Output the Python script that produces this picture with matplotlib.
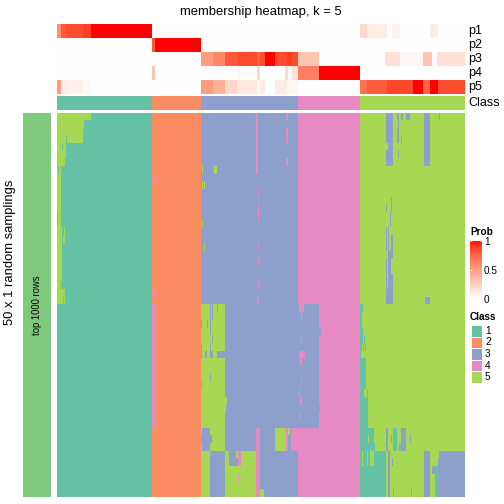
import numpy as np
import matplotlib
matplotlib.use("Agg")
import matplotlib.pyplot as plt
from matplotlib.colors import ListedColormap
from matplotlib.patches import Rectangle

plt.rcParams['font.family'] = ['Liberation Sans', 'DejaVu Sans']

# ---- data -------------------------------------------------------------
classes = [1, 2, 3, 4, 5]
class_colors = ["#66C2A5", "#FC8D62", "#8DA0CB", "#E78AC3", "#A6D854"]
class_sizes = [95, 49, 97, 62, 105]          # samples in each consensus class
n_samplings = 50
prob_rows = ["p1", "p2", "p3", "p4", "p5"]

# membership probabilities, run-length coded: (n samples, prob)
p1_runs = [(4, .55), (5, .8), (17, .85), (8, .9), (61, 1.0),
           (49, 0), (97, 0), (62, 0),
           (7, .2), (20, .1), (5, 0), (8, .08), (30, 0), (8, .1), (27, 0)]
p2_runs = [(95, 0), (3, .8), (46, 1.0), (97, 0), (62, 0), (105, 0)]
p3_runs = [(95, 0), (49, 0),
           (12, .5), (12, .6), (12, .8), (20, .85), (3, .75), (5, .85),
           (10, 1.0), (12, .85), (5, .9), (6, .85),
           (21, .3), (41, 0),
           (25, 0), (15, .15), (23, .05), (9, .3), (5, 0), (28, .15)]
p4_runs = [(95, 0), (3, .3), (46, 0),
           (36, 0), (3, .05), (17, 0), (3, .2), (25, 0), (3, .2), (4, 0), (6, .15),
           (21, .65), (41, 1.0), (105, 0)]
p5_runs = [(4, .5), (5, .1), (17, .08), (8, .03), (61, 0),
           (49, 0),
           (12, .5), (12, .4), (12, .2), (20, .12), (3, .03), (5, .1), (10, 0),
           (12, .1), (11, .05),
           (62, 0),
           (7, .7), (20, .8), (26, .87), (10, 1.0), (7, .75), (8, 1.0), (27, .85)]

# class calls of single samplings that differ from the consensus:
# (first sampling, last sampling + 1, first sample, last sample + 1, class)
reassign = [
    # class 1 block
    (0, 1, 0, 34, 5), (1, 2, 0, 27, 5), (2, 4, 0, 26, 5), (3, 4, 9, 10, 1),
    (4, 6, 0, 9, 5), (4, 5, 5, 6, 1), (6, 7, 0, 8, 5), (7, 15, 0, 4, 5),
    (7, 8, 1, 2, 1), (13, 15, 0, 1, 1), (15, 17, 0, 5, 5), (15, 16, 7, 8, 5),
    (16, 17, 6, 8, 5), (17, 22, 0, 5, 5), (22, 23, 0, 4, 5), (23, 25, 0, 8, 5),
    (24, 25, 6, 7, 1),
    # class 2 block
    (8, 9, 97, 98, 4), (23, 24, 97, 98, 4), (25, 41, 95, 98, 4),
    # class 3 block
    (7, 8, 145, 146, 5), (7, 8, 157, 160, 5), (9, 10, 145, 146, 5),
    (9, 10, 147, 148, 5), (14, 15, 145, 146, 5), (17, 18, 147, 148, 5),
    (0, 8, 199, 201, 4), (0, 1, 229, 231, 4), (2, 4, 229, 231, 4),
    (6, 7, 229, 231, 4), (10, 11, 201, 202, 4), (12, 14, 201, 202, 4),
    (17, 18, 201, 202, 4), (19, 20, 201, 202, 4), (22, 23, 201, 202, 4),
    (24, 25, 200, 202, 4),
    (25, 41, 144, 168, 5), (25, 27, 153, 154, 3), (25, 27, 155, 156, 3),
    (25, 26, 160, 161, 3), (27, 28, 144, 145, 3), (27, 28, 150, 151, 3),
    (27, 29, 153, 154, 3), (29, 30, 155, 156, 3), (30, 31, 153, 154, 3),
    (30, 32, 144, 145, 3), (31, 32, 148, 150, 3), (31, 32, 153, 156, 3),
    (31, 32, 160, 168, 3), (34, 35, 153, 154, 3), (35, 36, 144, 145, 3),
    (37, 38, 168, 170, 5), (38, 39, 168, 169, 5),
    (41, 44, 153, 168, 5), (41, 42, 144, 145, 5), (43, 44, 144, 145, 5),
    (42, 43, 153, 155, 3),
    (41, 50, 199, 203, 4), (41, 44, 218, 229, 5), (41, 44, 229, 231, 4),
    (41, 42, 231, 233, 5), (41, 44, 234, 241, 4),
    (44, 50, 144, 153, 5), (44, 50, 168, 199, 5), (44, 46, 172, 181, 3),
    (44, 45, 179, 181, 5), (44, 46, 181, 184, 4), (47, 48, 181, 182, 4),
    (49, 50, 203, 207, 5),
    # class 4 block
    (25, 41, 241, 262, 3), (25, 26, 242, 247, 4), (26, 27, 244, 245, 4),
    (28, 29, 262, 264, 3), (29, 30, 244, 245, 4), (31, 32, 242, 248, 4),
    (32, 33, 243, 245, 4), (34, 35, 244, 245, 4), (36, 37, 242, 243, 4),
    (37, 38, 243, 245, 4), (38, 39, 262, 263, 3), (39, 40, 242, 243, 4),
    # class 5 block
    (0, 7, 329, 336, 3), (4, 5, 329, 331, 5), (0, 1, 340, 342, 3),
    (1, 2, 341, 342, 3), (2, 4, 340, 342, 3), (5, 6, 341, 342, 3),
    (0, 1, 344, 346, 3), (3, 4, 344, 345, 3), (0, 1, 349, 353, 3),
    (0, 7, 367, 373, 3), (0, 1, 382, 383, 3),
    (11, 13, 334, 335, 3), (12, 13, 329, 330, 3), (13, 15, 333, 334, 3),
    (15, 18, 329, 330, 3), (15, 18, 331, 332, 3), (16, 19, 334, 336, 3),
    (18, 25, 331, 334, 3), (19, 24, 329, 330, 3), (21, 23, 334, 336, 3),
    (24, 25, 368, 373, 3), (23, 25, 329, 336, 3),
    (25, 26, 303, 306, 1), (26, 28, 303, 305, 1), (28, 29, 303, 306, 1),
    (29, 30, 303, 306, 1), (29, 30, 307, 308, 1), (30, 31, 303, 305, 1),
    (30, 31, 306, 307, 1), (30, 31, 308, 309, 1), (31, 32, 303, 304, 1),
    (32, 36, 303, 309, 1), (36, 37, 303, 307, 1), (36, 37, 310, 311, 1),
    (37, 41, 303, 311, 1),
    (41, 43, 303, 317, 1), (42, 43, 311, 312, 5), (43, 44, 303, 318, 1),
    (41, 44, 329, 331, 3), (41, 44, 336, 340, 1), (41, 44, 344, 349, 3),
    (43, 44, 342, 344, 1), (42, 43, 353, 354, 3), (42, 43, 334, 335, 3),
    (44, 50, 303, 329, 1), (44, 46, 305, 306, 5), (44, 46, 310, 311, 5),
    (44, 46, 313, 317, 5), (44, 50, 331, 333, 3), (45, 46, 335, 336, 3),
    (49, 50, 336, 337, 1), (49, 50, 354, 355, 3),
    (44, 50, 367, 373, 3), (46, 47, 375, 378, 3), (46, 50, 378, 381, 1),
    (45, 50, 381, 408, 3), (44, 45, 382, 408, 3),
]


def expand(runs):
    return np.concatenate([np.full(n, v, dtype=float) for n, v in runs])


def lab_ramp(n=256):
    # white -> red interpolated in CIE Lab, like colorRamp2 does
    t = np.linspace(0, 1, n)[:, None]
    white = np.array([100.0, 0.0, 0.0])
    red = np.array([53.24, 80.09, 67.20])
    lab = white * (1 - t) + red * t
    fy = (lab[:, 0] + 16) / 116
    fx = fy + lab[:, 1] / 500
    fz = fy - lab[:, 2] / 200
    d = 6 / 29

    def finv(f):
        return np.where(f > d, f ** 3, 3 * d * d * (f - 4 / 29))

    xyz = np.stack([0.95047 * finv(fx), finv(fy), 1.08883 * finv(fz)], axis=1)
    m = np.array([[3.2406, -1.5372, -0.4986],
                  [-0.9689, 1.8758, 0.0415],
                  [0.0557, -0.2040, 1.0570]])
    lin = np.clip(xyz @ m.T, 0, 1)
    rgb = np.where(lin <= 0.0031308, 12.92 * lin, 1.055 * lin ** (1 / 2.4) - 0.055)
    return ListedColormap(np.clip(rgb, 0, 1))


sample_class = np.repeat(classes, class_sizes)
probs = np.vstack([expand(r) for r in (p1_runs, p2_runs, p3_runs, p4_runs, p5_runs)])

calls = np.tile(sample_class, (n_samplings, 1))
for r0, r1, c0, c1, k in reassign:
    calls[r0:r1, c0:c1] = k

# ---- layout (pixels on a 504 x 504 canvas) ---------------------------
W = H = 504
fig = plt.figure(figsize=(7, 7), dpi=72)


def panel(x0, y0, x1, y1):
    ax = fig.add_axes([x0 / W, 1 - y1 / H, (x1 - x0) / W, (y1 - y0) / H])
    ax.set_axis_off()
    return ax


class_cmap = ListedColormap(class_colors)
prob_cmap = lab_ramp()

ax_p = panel(57, 24, 465, 94)
ax_p.imshow(probs, cmap=prob_cmap, vmin=0, vmax=1, aspect='auto',
            interpolation='nearest')

ax_c = panel(57, 96.3, 465, 109.7)
ax_c.imshow(sample_class[None, :], cmap=class_cmap, vmin=0.5, vmax=5.5,
            aspect='auto', interpolation='nearest')

ax_m = panel(57, 112.7, 465, 497)
ax_m.imshow(calls, cmap=class_cmap, vmin=0.5, vmax=5.5, aspect='auto',
            interpolation='nearest')

ax_l = panel(23, 112.7, 51, 497)
ax_l.add_patch(Rectangle((0, 0), 1, 1, color="#7FC97F"))
ax_l.set_xlim(0, 1)
ax_l.set_ylim(0, 1)
ax_l.text(0.5, 0.5, "top 1000 rows", rotation=90, ha='center', va='center',
          fontsize=9.5)

fig.text(261 / W, 1 - 12 / H, "membership heatmap, k = 5", ha='center',
         va='center', fontsize=13)
fig.text(10 / W, 0.5, "50 x 1 random samplings", rotation=90, ha='center',
         va='center', fontsize=13)

for i, lab in enumerate(prob_rows):
    fig.text(468 / W, 1 - (31 + 14 * i) / H, lab, ha='left', va='center',
             fontsize=12.5)
fig.text(468 / W, 1 - 103 / H, "Class", ha='left', va='center', fontsize=12.5)

# ---- legends ----------------------------------------------------------
fig.text(470 / W, 1 - 232 / H, "Prob", ha='left', va='center', fontsize=10,
         fontweight='bold')
ax_cb = fig.add_axes([470 / W, 1 - 299 / H, 12 / W, 58 / H])
grad = np.linspace(0, 1, 200)[:, None]
ax_cb.imshow(grad, cmap=prob_cmap, origin='lower', aspect='auto',
             extent=[0, 1, 0, 1])
ax_cb.set_xticks([])
ax_cb.set_yticks([0, 0.5, 1])
ax_cb.set_yticklabels(["0", "0.5", "1"], fontsize=10)
ax_cb.tick_params(axis='y', direction='in', color='white', length=2,
                  left=True, right=True, labelleft=False, labelright=True, pad=2)
for s in ax_cb.spines.values():
    s.set_visible(False)

fig.text(470 / W, 1 - 317 / H, "Class", ha='left', va='center', fontsize=10,
         fontweight='bold')
ax_cl = panel(470, 325, 500, 383)
ax_cl.set_xlim(0, 30)
ax_cl.set_ylim(5, 0)
for i, k in enumerate(classes):
    ax_cl.add_patch(Rectangle((1, i), 11, 1, facecolor=class_colors[i],
                              edgecolor='white', linewidth=1))
    ax_cl.text(15, i + 0.5, str(k), ha='left', va='center', fontsize=10)

fig.savefig("out.png", dpi=72)
